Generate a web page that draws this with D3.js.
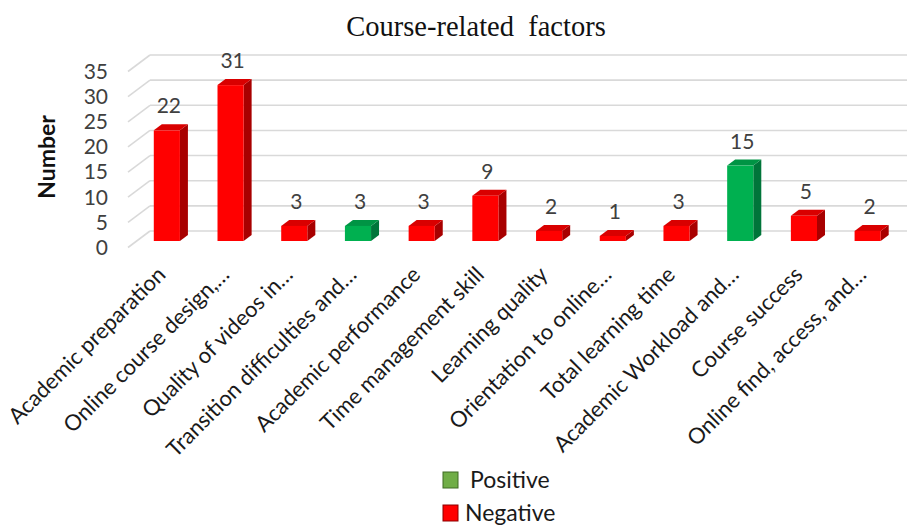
<!DOCTYPE html>
<html>
<head>
<meta charset="utf-8">
<script src="https://cdn.jsdelivr.net/npm/d3@7"></script>
<style>
  body { margin: 0; background: #fff; }
  svg { display: block; }
</style>
</head>
<body>
<svg id="chart" width="907" height="525"></svg>
<script>
// Course-related factors: counts per factor, coloured by effect direction
const categories = [
  "Academic preparation",
  "Online course design,…",
  "Quality of videos in…",
  "Transition difficulties and…",
  "Academic performance",
  "Time management skill",
  "Learning quality",
  "Orientation to online…",
  "Total learning time",
  "Academic Workload and…",
  "Course success",
  "Online find, access, and…"
];
const values = [22, 31, 3, 3, 3, 9, 2, 1, 3, 15, 5, 2];
const effects = ["Negative", "Negative", "Negative", "Positive", "Negative", "Negative",
                 "Negative", "Negative", "Negative", "Positive", "Negative", "Negative"];
const yTicks = [0, 5, 10, 15, 20, 25, 30, 35];
const legendItems = ["Positive", "Negative"];

const svg = d3.select("#chart");
const labelFont = "Lato, 'Open Sans', sans-serif";

// Front plane scales
const x = d3.scaleBand().domain(categories).range([135, 899.5])
  .paddingInner(0.59).paddingOuter(0.295);
const y = d3.scaleLinear().domain([0, 35]).range([241, 65]);

// 3D offsets: back wall / floor depth and column depth
const wallDx = 22, wallDy = -16.5, wallShift = 6.5;
const barDx = 8, barDy = -6;

const faceColor = {
  Negative: { front: "#FF0000", top: "#D90000", side: "#A80000" },
  Positive: { front: "#00B050", top: "#009444", side: "#00753A" }
};

// Gridlines on the back wall, with the slanted side-wall segment on the left
const grid = svg.append("g");
yTicks.forEach(t => {
  const yf = y(t) + wallShift;
  grid.append("line")
    .attr("x1", 128).attr("y1", yf)
    .attr("x2", 128 + wallDx).attr("y2", yf + wallDy)
    .attr("stroke", "#D9D9D9").attr("stroke-width", 1.6);
  grid.append("line")
    .attr("x1", 128 + wallDx).attr("y1", yf + wallDy)
    .attr("x2", 907).attr("y2", yf + wallDy)
    .attr("stroke", "#D9D9D9").attr("stroke-width", 1.6);
});

// Y tick labels on the front edge of the side wall
svg.append("g").selectAll("text").data(yTicks).join("text")
  .attr("x", 108).attr("y", d => y(d) + wallShift)
  .attr("dy", "0.35em")
  .attr("text-anchor", "end")
  .attr("font-family", labelFont).attr("font-size", 21)
  .attr("fill", "#404040")
  .text(d => d);

// Columns
const data = categories.map((c, i) => ({ c, v: values[i], e: effects[i] }));
const bars = svg.append("g").selectAll("g").data(data).join("g");
const w = x.bandwidth();

bars.append("path") // side face
  .attr("d", d => {
    const x1 = x(d.c) + w, yt = y(d.v), yb = y(0);
    return `M${x1},${yb}L${x1 + barDx},${yb + barDy}L${x1 + barDx},${yt + barDy}L${x1},${yt}Z`;
  })
  .attr("fill", d => faceColor[d.e].side);

bars.append("path") // top face
  .attr("d", d => {
    const x0 = x(d.c), yt = y(d.v);
    return `M${x0},${yt}L${x0 + barDx},${yt + barDy}L${x0 + w + barDx},${yt + barDy}L${x0 + w},${yt}Z`;
  })
  .attr("fill", d => faceColor[d.e].top);

bars.append("rect") // front face
  .attr("x", d => x(d.c))
  .attr("y", d => y(d.v))
  .attr("width", w)
  .attr("height", d => y(0) - y(d.v))
  .attr("fill", d => faceColor[d.e].front);

// Value labels
bars.append("text")
  .attr("x", d => x(d.c) + w / 2 + 2)
  .attr("y", d => y(d.v) + barDy - 11)
  .attr("text-anchor", "middle")
  .attr("font-family", labelFont).attr("font-size", 21)
  .attr("fill", "#404040")
  .text(d => d.v);

// Category labels, rotated 45 degrees
svg.append("g").selectAll("text").data(categories).join("text")
  .attr("transform", d => `translate(${x(d) + w / 2},${276}) rotate(-45)`)
  .attr("text-anchor", "end")
  .attr("font-family", labelFont).attr("font-size", 22)
  .attr("fill", "#1a1a1a")
  .text(d => d);

// Title
svg.append("text")
  .attr("x", 476).attr("y", 36)
  .attr("text-anchor", "middle")
  .attr("font-family", "'Liberation Serif', 'Times New Roman', serif")
  .attr("font-size", 28.5)
  .attr("fill", "#111")
  .style("white-space", "pre")
  .text("Course-related  factors");

// Y axis title
svg.append("text")
  .attr("transform", "translate(55,157) rotate(-90)")
  .attr("text-anchor", "middle")
  .attr("font-family", labelFont).attr("font-size", 23)
  .attr("font-weight", 700)
  .attr("fill", "#111")
  .text("Number");

// Legend
const legendColor = { Positive: "#70AD47", Negative: "#FF0000" };
const legendStroke = { Positive: "#3F6B25", Negative: "#8B0000" };
const legend = svg.append("g").selectAll("g").data(legendItems).join("g")
  .attr("transform", (d, i) => `translate(443,${472 + i * 33})`);
legend.append("rect")
  .attr("width", 15).attr("height", 16)
  .attr("fill", d => legendColor[d])
  .attr("stroke", d => legendStroke[d]).attr("stroke-width", 1);
legend.append("text")
  .attr("x", (d, i) => i === 0 ? 27 : 22).attr("y", 16)
  .attr("font-family", labelFont).attr("font-size", 23)
  .attr("fill", "#1a1a1a")
  .text(d => d);
</script>
</body>
</html>
